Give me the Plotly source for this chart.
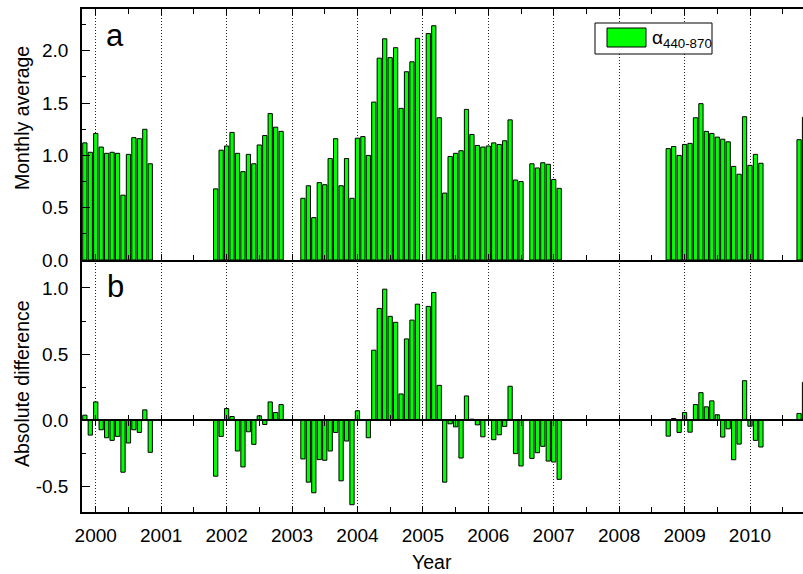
import plotly.graph_objects as go
from plotly.subplots import make_subplots

# ---------------- data ----------------
months = [
    "1999-11", "1999-12", "2000-01", "2000-02", "2000-03", "2000-04", "2000-05",
    "2000-06", "2000-07", "2000-08", "2000-09", "2000-10", "2000-11",
    "2001-11", "2001-12", "2002-01", "2002-02", "2002-03", "2002-04", "2002-05",
    "2002-06", "2002-07", "2002-08", "2002-09", "2002-10", "2002-11",
    "2003-03", "2003-04", "2003-05", "2003-06", "2003-07", "2003-08", "2003-09",
    "2003-10", "2003-11", "2003-12", "2004-01", "2004-02", "2004-03", "2004-04",
    "2004-05", "2004-06", "2004-07", "2004-08", "2004-09", "2004-10", "2004-11",
    "2004-12",
    "2005-02", "2005-03", "2005-04", "2005-05", "2005-06", "2005-07", "2005-08",
    "2005-09", "2005-10", "2005-11", "2005-12", "2006-01", "2006-02", "2006-03",
    "2006-04", "2006-05", "2006-06", "2006-07",
    "2006-09", "2006-10", "2006-11", "2006-12", "2007-01", "2007-02",
    "2008-10", "2008-11", "2008-12", "2009-01", "2009-02", "2009-03", "2009-04",
    "2009-05", "2009-06", "2009-07", "2009-08", "2009-09", "2009-10", "2009-11",
    "2009-12", "2010-01", "2010-02", "2010-03",
    "2010-10", "2010-11",
]

monthly_avg = [
    1.12, 1.03, 1.21, 1.08, 1.02, 1.03, 1.02, 0.62, 1.01, 1.17, 1.16, 1.25, 0.92,
    0.68, 1.05, 1.09, 1.22, 1.02, 0.845, 1.01, 0.92, 1.10, 1.19, 1.40, 1.27, 1.23,
    0.59, 0.71, 0.405, 0.74, 0.72, 0.97, 1.16, 0.71, 0.97, 0.59, 1.165, 1.18,
    1.00, 1.51, 1.93, 2.115, 1.935, 2.03, 1.45, 1.80, 1.895, 2.12,
    2.165, 2.24, 1.36, 0.64, 0.99, 1.02, 1.045, 1.44, 1.20, 1.095, 1.08, 1.09,
    1.12, 1.105, 1.14, 1.34, 0.765, 0.75,
    0.92, 0.88, 0.93, 0.915, 0.77, 0.685,
    1.065, 1.085, 1.00, 1.105, 1.115, 1.36, 1.495, 1.23, 1.21, 1.175, 1.155,
    1.13, 0.895, 0.82, 1.37, 0.905, 1.01, 0.925,
    1.15, 1.365,
]

abs_diff = [
    0.04, -0.11, 0.14, -0.07, -0.13, -0.15, -0.12, -0.39, -0.17, -0.07, -0.09, 0.08, -0.24,
    -0.42, -0.12, 0.09, 0.03, -0.23, -0.35, -0.085, -0.18, 0.035, -0.03, 0.14, 0.06, 0.12,
    -0.29, -0.465, -0.545, -0.295, -0.30, -0.23, -0.09, -0.455, -0.155, -0.635, 0.073,
    0.005, -0.13, 0.53, 0.845, 0.99, 0.785, 0.74, 0.20, 0.615, 0.757, 0.877,
    0.86, 0.965, 0.265, -0.465, -0.025, -0.048, -0.283, 0.185, 0.01, -0.033, -0.123,
    0.0, -0.145, -0.108, -0.045, 0.258, -0.25, -0.343,
    -0.286, -0.243, -0.195, -0.306, -0.313, -0.444,
    -0.118, 0.015, -0.09, 0.06, -0.088, 0.12, 0.21, 0.103, 0.148, 0.043, -0.125,
    -0.063, -0.296, -0.178, 0.30, -0.043, -0.15, -0.20,
    0.053, 0.288,
]

year_ticks = list(range(2000, 2011))
year_labels = [str(y) for y in year_ticks]
avg_ticks = [0.0, 0.5, 1.0, 1.5, 2.0]
avg_labels = ["0.0", "0.5", "1.0", "1.5", "2.0"]
diff_ticks = [-0.5, 0.0, 0.5, 1.0]
diff_labels = ["-0.5", "0.0", "0.5", "1.0"]
legend_label = "α<sub>440-870</sub>"

# decimal-year positions of the monthly bars
xpos = [int(m[:4]) + (int(m[5:]) - 1) / 12 for m in months]

# ---------------- layout constants ----------------
W, H = 803, 574
ML, MR, MT, MB = 82, 0, 9, 62
PW, PH = W - ML - MR, H - MT - MB
XR = [1999.79, 2010.81]
Y1R = [0, 2.4]
Y2R = [-0.69, 1.21]
split = (512 - 260) / PH  # paper y of panel boundary

FONT = "Liberation Sans, Arial, sans-serif"
GREEN = "#00FF00"
BAR_W = 0.78 / 12
TICKFONT = dict(size=19, color="black", family=FONT)


def px_x(x):
    return (x - ML) / PW


def px_y(y):
    return (H - MB - y) / PH


fig = make_subplots(rows=2, cols=1, shared_xaxes=True, vertical_spacing=0)

fig.add_trace(go.Bar(x=xpos, y=monthly_avg, width=BAR_W, name="alpha 440-870",
                     marker=dict(color=GREEN, line=dict(color="black", width=1)),
                     showlegend=False), row=1, col=1)
fig.add_trace(go.Bar(x=xpos, y=abs_diff, width=BAR_W, showlegend=False,
                     name="absolute difference",
                     marker=dict(color=GREEN, line=dict(color="black", width=1))),
              row=2, col=1)
# helper (empty) traces so the zero-line tick axes are drawn
fig.add_trace(go.Scatter(x=[], y=[], xaxis="x3", yaxis="y2", showlegend=False))
fig.add_trace(go.Scatter(x=[], y=[], xaxis="x4", yaxis="y2", showlegend=False))

grid = dict(showgrid=True, gridcolor="#222", gridwidth=1, griddash="1px,2px")
xcommon = dict(range=XR, tickmode="array", tickvals=year_ticks, ticktext=year_labels,
               ticks="inside", ticklen=6, tickwidth=1.2, tickcolor="black",
               minor=dict(tick0=2000.5, dtick=1, ticks="inside", ticklen=5,
                          tickwidth=1.2, tickcolor="black", showgrid=False),
               showline=True, linecolor="black", linewidth=1.5, zeroline=False,
               **grid)
ycommon = dict(ticks="inside", ticklen=8, tickwidth=1.2, tickcolor="black",
               minor=dict(dtick=0.25, ticks="inside", ticklen=4, tickwidth=1.2,
                          tickcolor="black"),
               showline=True, linecolor="black", linewidth=1.5, showgrid=False,
               zeroline=False, tickfont=TICKFONT, ticklabelstandoff=8)

fig.update_layout(
    xaxis=dict(domain=[0, 1], showticklabels=False, mirror="ticks", **xcommon),
    xaxis2=dict(domain=[0, 1], showticklabels=True, mirror=False,
                tickfont=TICKFONT, ticklabelstandoff=5, **xcommon),
    yaxis=dict(domain=[split, 1], range=Y1R, tickmode="array", tickvals=avg_ticks,
               ticktext=avg_labels, **ycommon),
    yaxis2=dict(domain=[0, split], range=Y2R, tickmode="array", tickvals=diff_ticks,
                ticktext=diff_labels, **ycommon),
)

zero_pos = split * (0 - Y2R[0]) / (Y2R[1] - Y2R[0])
zaxis = dict(overlaying="x2", anchor="free", position=zero_pos, range=XR,
             side="bottom", tickmode="array", tickvals=year_ticks,
             showticklabels=False, ticklen=5, tickwidth=1.2, tickcolor="black",
             showline=True, linecolor="black", linewidth=1.5, showgrid=False,
             zeroline=False)
fig.update_layout(
    xaxis3=dict(ticks="outside",
                minor=dict(tick0=2000.5, dtick=1, ticks="outside", ticklen=5,
                           tickwidth=1.2, tickcolor="black"), **zaxis),
    xaxis4=dict(ticks="inside",
                minor=dict(tick0=2000.5, dtick=1, ticks="inside", ticklen=5,
                           tickwidth=1.2, tickcolor="black"), **zaxis),
)

annotations = [
    dict(text="a", x=px_x(104), y=px_y(35), xanchor="left", yanchor="middle",
         font=dict(size=31, color="black", family=FONT)),
    dict(text="b", x=px_x(105), y=px_y(286), xanchor="left", yanchor="middle",
         font=dict(size=31, color="black", family=FONT)),
    dict(text="Monthly average", x=px_x(22), y=px_y(118), textangle=-90,
         xanchor="center", yanchor="middle",
         font=dict(size=19.5, color="black", family=FONT)),
    dict(text="Absolute difference", x=px_x(22), y=px_y(384), textangle=-90,
         xanchor="center", yanchor="middle",
         font=dict(size=19.5, color="black", family=FONT)),
    dict(text="Year", x=px_x(432), y=px_y(562), xanchor="center", yanchor="middle",
         font=dict(size=19.5, color="black", family=FONT)),
    dict(text=legend_label, x=px_x(650), y=px_y(39), xanchor="left",
         yanchor="middle", font=dict(size=19, color="black", family=FONT)),
]
for a in annotations:
    a.update(xref="paper", yref="paper", showarrow=False)

shapes = [
    dict(type="rect", xref="paper", yref="paper", x0=px_x(595), x1=px_x(712),
         y0=px_y(54), y1=px_y(23), line=dict(color="black", width=1),
         fillcolor="white", layer="above"),
    dict(type="rect", xref="paper", yref="paper", x0=px_x(607), x1=px_x(646),
         y0=px_y(47), y1=px_y(28), line=dict(color="black", width=1),
         fillcolor=GREEN, layer="above"),
]

fig.update_layout(
    width=W, height=H, margin=dict(l=ML, r=MR, t=MT, b=MB, pad=0),
    paper_bgcolor="white", plot_bgcolor="white",
    annotations=annotations, shapes=shapes, showlegend=False,
    font=dict(family=FONT, color="black"),
)

fig.write_html("out.html")
